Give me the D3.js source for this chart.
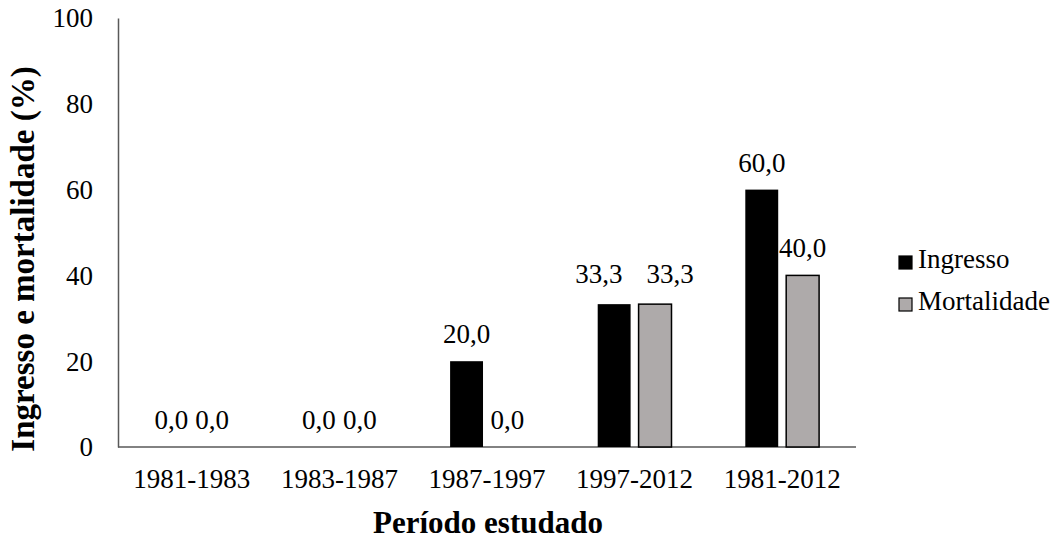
<!DOCTYPE html>
<html>
<head>
<meta charset="utf-8">
<script src="https://cdn.jsdelivr.net/npm/d3@7"></script>
<style>
  html, body { margin: 0; padding: 0; background: #fff; }
  svg text { font-family: "Liberation Serif", "Times New Roman", serif; fill: #000; }
</style>
</head>
<body>
<svg id="chart" width="1051" height="540"></svg>
<script>
// Periods and the two series (percent)
const periods = ["1981-1983", "1983-1987", "1987-1997", "1997-2012", "1981-2012"];
const seriesNames = ["Ingresso", "Mortalidade"];
const ingresso = [0.0, 0.0, 20.0, 33.3, 60.0];
const mortalidade = [0.0, 0.0, 0.0, 33.3, 40.0];
const yTicks = [0, 20, 40, 60, 80, 100];

const seriesColors = { Ingresso: "#000000", Mortalidade: "#AEAAAA" };
const rows = periods.map((p, i) => ({ period: p, Ingresso: ingresso[i], Mortalidade: mortalidade[i] }));

const FONT = "'Liberation Serif', 'Times New Roman', serif";
const svg = d3.select("#chart");
const plot = { left: 118, right: 856, top: 18, bottom: 447 };
const fmt = v => v.toFixed(1).replace(".", ",");

const x = d3.scaleBand().domain(periods).range([plot.left, plot.right])
  .paddingInner(0.5).paddingOuter(0.25);
const xSub = d3.scaleBand().domain(seriesNames).range([0, x.bandwidth()])
  .paddingInner(8 / 41);
const y = d3.scaleLinear().domain([0, 100]).range([plot.bottom, plot.top]);

// Y axis: line plus labels, no tick marks
const yAxis = svg.append("g").attr("transform", `translate(${plot.left},0)`)
  .call(d3.axisLeft(y).tickValues(yTicks).tickSize(0).tickPadding(25).tickFormat(d3.format("d")));
yAxis.attr("font-family", FONT);
yAxis.select(".domain").attr("stroke", "#595959").attr("stroke-width", 1.5);
yAxis.selectAll("text").attr("font-family", FONT).style("font-size", "27px")
  .attr("fill", "#000").attr("dy", "0.33em");

// X axis
const xAxis = svg.append("g").attr("transform", `translate(0,${plot.bottom})`)
  .call(d3.axisBottom(x).tickSize(0).tickPadding(22));
xAxis.attr("font-family", FONT);
xAxis.select(".domain").attr("stroke", "#595959").attr("stroke-width", 1.5)
  .attr("d", `M${plot.left},0H${plot.right}`);
xAxis.selectAll("text").attr("font-family", FONT).style("font-size", "27px")
  .attr("fill", "#000").attr("dy", "0.71em");

// Bars
const groups = svg.append("g").selectAll("g").data(rows).join("g")
  .attr("transform", d => `translate(${x(d.period)},0)`);

const cells = groups.selectAll("g.cell")
  .data(d => seriesNames.map(k => ({ key: k, value: d[k] })))
  .join("g").attr("class", "cell");

cells.append("rect")
  .attr("x", d => xSub(d.key))
  .attr("width", xSub.bandwidth())
  .attr("y", d => y(d.value))
  .attr("height", d => y(0) - y(d.value))
  .attr("fill", d => seriesColors[d.key])
  .attr("stroke", d => d.key === "Mortalidade" && d.value > 0 ? "#000" : "none")
  .attr("stroke-width", 1.5);

// Value labels above each bar
cells.append("text")
  .attr("class", "value")
  .attr("x", d => xSub(d.key) + xSub.bandwidth() / 2)
  .attr("y", d => y(d.value) - 18)
  .attr("text-anchor", "middle")
  .attr("font-family", FONT)
  .style("font-size", "27px")
  .text(d => fmt(d.value));

// Push apart the two labels of a group when they sit at the same height and collide
groups.each(function () {
  const labels = d3.select(this).selectAll("text.value").nodes();
  if (labels.length !== 2) return;
  const [a, b] = labels;
  const ya = +a.getAttribute("y"), yb = +b.getAttribute("y");
  if (Math.abs(ya - yb) > 20) return;
  const xa = +a.getAttribute("x"), xb = +b.getAttribute("x");
  const halfW = (a.getComputedTextLength() + b.getComputedTextLength()) / 2;
  if (xb - xa >= halfW + 4) return;
  const shift = (halfW + 24 - (xb - xa)) / 2;
  a.setAttribute("x", xa - shift);
  b.setAttribute("x", xb + shift);
  a.setAttribute("y", ya - 3);
  b.setAttribute("y", yb - 3);
});

// Axis titles
svg.append("text")
  .attr("transform", `translate(34,259) rotate(-90)`)
  .attr("text-anchor", "middle")
  .attr("font-family", FONT)
  .style("font-size", "33px").style("font-weight", "bold")
  .text("Ingresso e mortalidade (%)");

svg.append("text")
  .attr("x", 488).attr("y", 533)
  .attr("text-anchor", "middle")
  .attr("font-family", FONT)
  .style("font-size", "31px").style("font-weight", "bold")
  .text("Período estudado");

// Legend
const legend = svg.append("g").selectAll("g").data(seriesNames).join("g")
  .attr("transform", (d, i) => `translate(899,${256 + i * 42})`);
legend.append("rect")
  .attr("width", 13).attr("height", 13)
  .attr("fill", d => seriesColors[d])
  .attr("stroke", "#000").attr("stroke-width", 1.2);
legend.append("text")
  .attr("x", 19).attr("y", 11.5)
  .attr("font-family", FONT)
  .style("font-size", "27px")
  .text(d => d);
</script>
</body>
</html>
